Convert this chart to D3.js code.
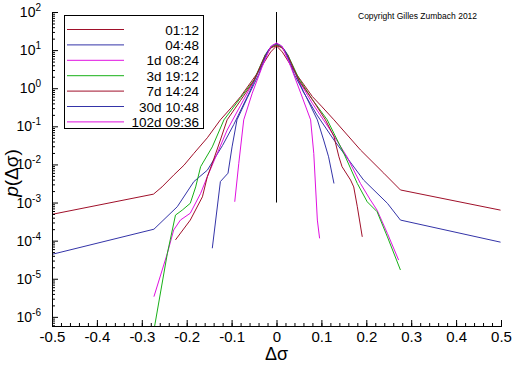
<!DOCTYPE html>
<html>
<head>
<meta charset="utf-8">
<script src="https://cdn.jsdelivr.net/npm/d3@7"></script>
<style>
  body { margin: 0; background: #fff; }
  text { font-family: Arial, "Liberation Sans", sans-serif; }
</style>
</head>
<body>
<div id="chart"></div>
<script>
// data: x = delta sigma, y = log10 p(delta sigma)
var seriesNames = ["01:12", "04:48", "1d 08:24", "3d 19:12", "7d 14:24", "30d 10:48", "102d 09:36"];

var dx_0112 = [-0.5, -0.274, -0.255, -0.229, -0.206, -0.184, -0.154, -0.125, -0.10, -0.08, -0.043, -0.013, 0, 0.013, 0.043, 0.08, 0.10, 0.128, 0.187, 0.239, 0.276, 0.499];
var lp_0112 = [-3.31, -2.78, -2.59, -2.28, -2.02, -1.71, -1.30, -0.83, -0.50, -0.22, 0.39, 0.95, 1.11, 0.95, 0.39, -0.22, -0.47, -0.83, -1.62, -2.23, -2.67, -3.20];

var dx_0448 = [-0.5, -0.273, -0.221, -0.184, -0.154, -0.120, -0.095, -0.06, -0.03, -0.012, 0, 0.012, 0.03, 0.06, 0.09, 0.128, 0.194, 0.247, 0.276, 0.499];
var lp_0448 = [-4.36, -3.70, -3.11, -2.45, -2.15, -1.50, -0.95, -0.10, 0.72, 1.09, 1.15, 1.09, 0.72, -0.10, -0.70, -1.36, -2.41, -3.02, -3.46, -4.04];

var dx_1d = [-0.273, -0.243, -0.229, -0.214, -0.192, -0.169, -0.154, -0.132, -0.110, -0.08, -0.05, -0.025, -0.012, 0, 0.012, 0.025, 0.05, 0.08, 0.120, 0.157, 0.187, 0.209, 0.224, 0.247, 0.272];
var lp_1d = [-5.47, -4.33, -3.72, -3.46, -3.28, -2.76, -2.32, -1.71, -1.10, -0.45, 0.20, 0.87, 1.09, 1.15, 1.09, 0.87, 0.20, -0.40, -1.10, -1.80, -2.50, -2.93, -3.20, -3.81, -4.51];

var dx_3d = [-0.273, -0.243, -0.225, -0.210, -0.192, -0.180, -0.169, -0.143, -0.117, -0.08, -0.05, -0.025, -0.012, 0, 0.012, 0.025, 0.05, 0.08, 0.113, 0.150, 0.180, 0.202, 0.224, 0.247, 0.276];
var lp_3d = [-6.35, -4.33, -3.33, -3.20, -3.02, -2.59, -2.06, -1.54, -0.83, -0.25, 0.22, 0.88, 1.08, 1.14, 1.08, 0.88, 0.25, -0.30, -0.83, -1.71, -2.50, -2.98, -3.24, -3.90, -4.77];

var dx_7d = [-0.225, -0.192, -0.165, -0.154, -0.143, -0.125, -0.110, -0.08, -0.05, -0.025, -0.012, 0, 0.012, 0.025, 0.05, 0.08, 0.109, 0.128, 0.139, 0.146, 0.165, 0.172, 0.180, 0.191];
var lp_7d = [-3.98, -3.46, -2.85, -2.32, -1.97, -1.36, -0.83, -0.32, 0.20, 0.86, 1.06, 1.12, 1.06, 0.86, 0.20, -0.30, -0.83, -1.27, -1.80, -2.06, -2.41, -2.59, -3.11, -3.90];

var dx_30d = [-0.143, -0.125, -0.108, -0.099, -0.088, -0.065, -0.04, -0.02, -0.01, 0, 0.01, 0.02, 0.04, 0.065, 0.091, 0.105, 0.116, 0.128];
var lp_30d = [-4.20, -2.45, -2.23, -1.54, -0.83, -0.25, 0.35, 0.97, 1.12, 1.17, 1.12, 0.97, 0.35, -0.20, -0.83, -1.36, -1.80, -2.50];

var dx_102d = [-0.093, -0.084, -0.073, -0.054, -0.032, -0.013, 0, 0.013, 0.032, 0.054, 0.076, 0.083, 0.091, 0.096];
var lp_102d = [-2.98, -1.97, -0.83, -0.13, 0.56, 1.09, 1.19, 1.09, 0.56, -0.13, -0.83, -1.71, -3.46, -3.94];

var xTicks = [-0.5, -0.4, -0.3, -0.2, -0.1, 0, 0.1, 0.2, 0.3, 0.4, 0.5];
var xTickLabels = ["-0.5", "-0.4", "-0.3", "-0.2", "-0.1", "0", "0.1", "0.2", "0.3", "0.4", "0.5"];
var yExponents = [-6, -5, -4, -3, -2, -1, 0, 1, 2];

var allDx = [dx_0112, dx_0448, dx_1d, dx_3d, dx_7d, dx_30d, dx_102d];
var allLp = [lp_0112, lp_0448, lp_1d, lp_3d, lp_7d, lp_30d, lp_102d];
var colors = ["#a0102a", "#3434a8", "#e010e0", "#18b018", "#a0102a", "#3434a8", "#e010e0"];

var width = 512, height = 366;
var plotLeft = 52, plotRight = 501, plotTop = 12, plotBottom = 326;

var svg = d3.select("#chart").append("svg")
    .attr("width", width)
    .attr("height", height)

var x = d3.scaleLinear().domain([-0.5, 0.5]).range([plotLeft, plotRight])
var y = d3.scaleLog().domain([Math.pow(10, -6.24), 100]).range([plotBottom, plotTop])

svg.append("clipPath").attr("id", "plotclip")
    .append("rect")
    .attr("x", plotLeft).attr("y", plotTop)
    .attr("width", plotRight - plotLeft).attr("height", plotBottom - plotTop)

// vertical reference line at 0
svg.append("line")
    .attr("x1", x(0)).attr("x2", x(0))
    .attr("y1", y(100)).attr("y2", y(1e-3))
    .attr("stroke", "#000").attr("stroke-width", 1)

var line = d3.line()
    .x(function(d){ return x(d[0]) })
    .y(function(d){ return y(Math.pow(10, d[1])) })

var g = svg.append("g").attr("clip-path", "url(#plotclip)")
allDx.forEach(function(dx, i){
    var pts = dx.map(function(v, j){ return [v, allLp[i][j]] })
    g.append("path")
        .datum(pts)
        .attr("d", line)
        .attr("fill", "none")
        .attr("stroke", colors[i])
        .attr("stroke-width", 1)
})

// x axis
var xMinor = d3.range(-50, 51, 2).map(function(v){ return v / 100 })
svg.append("g")
    .attr("transform", "translate(0," + plotBottom + ")")
    .call(d3.axisBottom(x).tickValues(xMinor).tickSize(-3).tickFormat(""))
svg.append("g")
    .attr("class", "xaxis")
    .attr("transform", "translate(0," + plotBottom + ")")
    .call(d3.axisBottom(x).tickValues(xTicks).tickSize(-6).tickPadding(5.5)
        .tickFormat(function(d, i){ return xTickLabels[i] }))

// y axis
var yMinor = []
for (var e = -7; e < 2; e++) {
    for (var k = 2; k <= 9; k++) {
        var v = k * Math.pow(10, e)
        if (v >= y.domain()[0] && v <= 100) yMinor.push(v)
    }
}
var yMajor = yExponents.map(function(e){ return Math.pow(10, e) })
svg.append("g")
    .attr("transform", "translate(" + plotLeft + ",0)")
    .call(d3.axisLeft(y).tickValues(yMinor).tickSize(-3).tickFormat(""))
svg.append("g")
    .attr("transform", "translate(" + plotLeft + ",0)")
    .call(d3.axisLeft(y).tickValues(yMajor).tickSize(-6).tickFormat(""))

svg.selectAll(".domain").attr("stroke", "#000")
svg.selectAll(".tick line").attr("stroke", "#000")
svg.selectAll(".xaxis text")
    .attr("font-size", 15)
    .attr("font-family", "Arial, 'Liberation Sans', sans-serif")
    .attr("fill", "#000")

var ylab = svg.append("g")
yExponents.forEach(function(e, i){
    var t = ylab.append("text")
        .attr("x", 41)
        .attr("y", y(yMajor[i]) + 5)
        .attr("text-anchor", "end")
        .attr("font-size", 14)
    t.append("tspan").text("10")
    t.append("tspan").attr("dy", -6).attr("font-size", 10).text(e < 0 ? "-" + (-e) : String(e))
})

// axis titles
svg.append("text")
    .attr("x", x(0))
    .attr("y", 360)
    .attr("text-anchor", "middle")
    .attr("font-size", 18)
    .attr("font-family", "'Liberation Serif', 'DejaVu Serif', serif")
    .text("Δσ")

svg.append("text")
    .attr("transform", "translate(18,173) rotate(-90)")
    .attr("text-anchor", "middle")
    .attr("font-size", 19)
    .attr("font-family", "'Liberation Serif', 'DejaVu Serif', serif")
    .html("<tspan font-style='italic'>p</tspan>(Δσ)")

// legend
var legend = svg.append("g")
legend.append("rect")
    .attr("x", 64.5).attr("y", 15.5)
    .attr("width", 139).attr("height", 113)
    .attr("fill", "#fff").attr("stroke", "#000").attr("stroke-width", 1)
seriesNames.forEach(function(name, i){
    var ly = 29.5 + i * 15.4
    legend.append("line")
        .attr("x1", 67).attr("x2", 124)
        .attr("y1", ly).attr("y2", ly)
        .attr("stroke", colors[i]).attr("stroke-width", 1)
    legend.append("text")
        .attr("x", 199).attr("y", ly + 5)
        .attr("text-anchor", "end")
        .attr("font-size", 13.5)
        .text(name)
})

svg.append("text")
    .attr("x", 358).attr("y", 19)
    .attr("font-size", 8.5)
    .text("Copyright Gilles Zumbach 2012")
</script>
</body>
</html>
